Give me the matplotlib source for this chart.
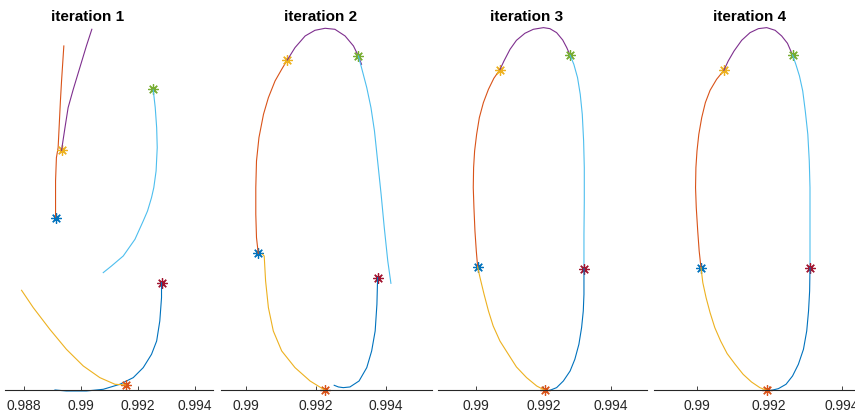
import matplotlib
matplotlib.use("Agg")
import matplotlib.pyplot as plt
from matplotlib.ticker import FuncFormatter
from cycler import cycler

# MATLAB default line colour order
matlab_colors = ["#0072BD", "#D95319", "#EDB120", "#7E2F8E",
                 "#77AC30", "#4DBEEE", "#A2142F"]

titles = ["iteration 1", "iteration 2", "iteration 3", "iteration 4"]
x_ticks = [[0.988, 0.990, 0.992, 0.994],
           [0.990, 0.992, 0.994],
           [0.990, 0.992, 0.994],
           [0.990, 0.992, 0.994]]
x_limits = [(0.98734, 0.99464), (0.989286, 0.995305),
            (0.988884, 0.995077), (0.988835, 0.994587)]

# ---- iteration 1 ----
it1_start_x = [0.98911, 0.98932, 0.99253, 0.99282, 0.99156]
it1_start_y = [0.4796, 0.6667, 0.8361, 0.2991, 0.0148]
it1_arcs = [
    ([0.98911, 0.98911, 0.98914, 0.98920, 0.98924, 0.98928, 0.98932, 0.98940],
     [0.4815, 0.5815, 0.6463, 0.6741, 0.7389, 0.8037, 0.8593, 0.9565]),
    ([0.98932, 0.98944, 0.98955, 0.98973, 0.98996, 0.99019, 0.99038],
     [0.6667, 0.7296, 0.7852, 0.8361, 0.8963, 0.9565, 1.0028]),
    ([0.99253, 0.99260, 0.99265, 0.99267, 0.99263, 0.99255, 0.99247, 0.99233,
      0.99218, 0.99189, 0.99148, 0.99107, 0.99078],
     [0.8343, 0.7852, 0.7296, 0.6741, 0.6093, 0.5630, 0.5352, 0.4981,
      0.4704, 0.4194, 0.3731, 0.3454, 0.3269]),
    ([0.99282, 0.99282, 0.99276, 0.99265, 0.99247, 0.99218, 0.99183, 0.99136,
      0.99078, 0.99019, 0.98949, 0.98909],
     [0.2991, 0.2574, 0.1926, 0.1370, 0.1000, 0.0630, 0.0352, 0.0167,
      0.0028, -0.0019, -0.0019, 0.0009]),
    ([0.99156, 0.99119, 0.99066, 0.99008, 0.98949, 0.98891, 0.98833, 0.98792],
     [0.0148, 0.0167, 0.0352, 0.0676, 0.1139, 0.1694, 0.2296, 0.2778]),
]

# ---- iteration 2 ----
it2_start_x = [0.99035, 0.99118, 0.99321, 0.99376, 0.99226]
it2_start_y = [0.3806, 0.9167, 0.9287, 0.3130, 0.0000]
it2_arcs = [
    ([0.99035, 0.99030, 0.99028, 0.99028, 0.99030, 0.99037, 0.99050, 0.99064,
      0.99083, 0.99102, 0.99118],
     [0.3806, 0.4241, 0.4889, 0.5630, 0.6370, 0.7019, 0.7667, 0.8130,
      0.8593, 0.8917, 0.9176]),
    ([0.99118, 0.99140, 0.99169, 0.99197, 0.99226, 0.99254, 0.99283, 0.99307,
      0.99321, 0.99330],
     [0.9176, 0.9519, 0.9843, 1.0000, 1.0056, 1.0028, 0.9843, 0.9565,
      0.9287, 0.9056]),
    ([0.99321, 0.99330, 0.99345, 0.99357, 0.99367, 0.99376, 0.99386, 0.99395,
      0.99405, 0.99414],
     [0.9287, 0.8963, 0.8407, 0.7852, 0.7204, 0.6370, 0.5444, 0.4519,
      0.3593, 0.2972]),
    ([0.99376, 0.99374, 0.99369, 0.99359, 0.99345, 0.99323, 0.99297, 0.99278,
      0.99264, 0.99252],
     [0.3130, 0.2389, 0.1648, 0.1093, 0.0630, 0.0259, 0.0093, 0.0074,
      0.0093, 0.0139]),
    ([0.99226, 0.99183, 0.99140, 0.99102, 0.99078, 0.99064, 0.99056, 0.99052,
      0.99047],
     [0.0000, 0.0259, 0.0630, 0.1093, 0.1648, 0.2296, 0.3037, 0.3731,
      0.3778]),
]

# ---- iteration 3 ----
it3_start_x = [0.99005, 0.99071, 0.99279, 0.99320, 0.99204]
it3_start_y = [0.3426, 0.8907, 0.9306, 0.3380, 0.0000]
it3_arcs = [
    ([0.99005, 0.99001, 0.98997, 0.98994, 0.98992, 0.98993, 0.98996, 0.99002,
      0.99010, 0.99022, 0.99037, 0.99053, 0.99071],
     [0.3426, 0.3870, 0.4426, 0.5074, 0.5630, 0.6185, 0.6648, 0.7111,
      0.7574, 0.7991, 0.8361, 0.8667, 0.8907]),
    ([0.99071, 0.99083, 0.99101, 0.99120, 0.99145, 0.99170, 0.99200, 0.99219,
      0.99239, 0.99257, 0.99269, 0.99279],
     [0.8907, 0.9148, 0.9472, 0.9722, 0.9917, 1.0028, 1.0074, 1.0046,
      0.9935, 0.9731, 0.9519, 0.9306]),
    ([0.99279, 0.99290, 0.99301, 0.99309, 0.99315, 0.99319, 0.99321, 0.99321,
      0.99320, 0.99320],
     [0.9306, 0.9056, 0.8685, 0.8222, 0.7667, 0.6926, 0.6185, 0.5259,
      0.4333, 0.3380]),
    ([0.99320, 0.99320, 0.99318, 0.99313, 0.99305, 0.99293, 0.99279, 0.99259,
      0.99239, 0.99219, 0.99204],
     [0.3380, 0.2667, 0.2204, 0.1741, 0.1278, 0.0861, 0.0537, 0.0259,
      0.0074, 0.0000, -0.0019]),
    ([0.99204, 0.99180, 0.99150, 0.99120, 0.99096, 0.99071, 0.99051, 0.99037,
      0.99024, 0.99012, 0.99005],
     [0.0000, 0.0120, 0.0352, 0.0648, 0.1000, 0.1370, 0.1787, 0.2204,
      0.2667, 0.3130, 0.3426]),
]

# ---- iteration 4 ----
it4_start_x = [0.99012, 0.99075, 0.99264, 0.99312, 0.99193]
it4_start_y = [0.3407, 0.8889, 0.9315, 0.3407, 0.0000]
it4_arcs = [
    ([0.99012, 0.99007, 0.99003, 0.98999, 0.98997, 0.98998, 0.99001, 0.99006,
      0.99014, 0.99024, 0.99037, 0.99055, 0.99075],
     [0.3407, 0.3870, 0.4426, 0.5074, 0.5630, 0.6185, 0.6648, 0.7111,
      0.7574, 0.7991, 0.8333, 0.8639, 0.8889]),
    ([0.99075, 0.99087, 0.99103, 0.99124, 0.99147, 0.99170, 0.99193, 0.99216,
      0.99234, 0.99250, 0.99264],
     [0.8889, 0.9148, 0.9426, 0.9722, 0.9935, 1.0046, 1.0074, 1.0000,
      0.9843, 0.9639, 0.9315]),
    ([0.99264, 0.99273, 0.99283, 0.99292, 0.99299, 0.99306, 0.99310, 0.99312,
      0.99312, 0.99312, 0.99312],
     [0.9315, 0.9056, 0.8731, 0.8315, 0.7759, 0.7111, 0.6370, 0.5630,
      0.4796, 0.4093, 0.3407]),
    ([0.99312, 0.99311, 0.99308, 0.99303, 0.99294, 0.99280, 0.99264, 0.99246,
      0.99225, 0.99206, 0.99197],
     [0.3407, 0.2759, 0.2204, 0.1648, 0.1139, 0.0722, 0.0398, 0.0167,
      0.0046, 0.0000, 0.0000]),
    ([0.99193, 0.99174, 0.99151, 0.99128, 0.99106, 0.99084, 0.99066, 0.99050,
      0.99037, 0.99026, 0.99017, 0.99012],
     [0.0000, 0.0074, 0.0231, 0.0444, 0.0722, 0.1019, 0.1370, 0.1741,
      0.2157, 0.2574, 0.2991, 0.3407]),
]

iterations = [
    (it1_start_x, it1_start_y, it1_arcs),
    (it2_start_x, it2_start_y, it2_arcs),
    (it3_start_x, it3_start_y, it3_arcs),
    (it4_start_x, it4_start_y, it4_arcs),
]

plt.rcParams["font.family"] = ["Liberation Sans", "DejaVu Sans"]
plt.rcParams["axes.prop_cycle"] = cycler(color=matlab_colors)

W, H = 855, 415
fig = plt.figure(figsize=(W / 100, H / 100), dpi=100)

# axes placement in pixels: (left, right), common bottom/top
ax_px = [(5.0, 213.5), (221.0, 431.7), (438.3, 647.3), (654.3, 863.3)]
bottom_px, top_px = 390.3, 30.3
title_cx = [88, 321, 527, 750]
axis_gray = "#262626"

asterisk = (8, 2, 0)
fmt = FuncFormatter(lambda v, p: f"{v:.3f}".rstrip("0"))

for i, (sx, sy, arcs) in enumerate(iterations):
    l, r = ax_px[i]
    ax = fig.add_axes([l / W, (H - bottom_px) / H, (r - l) / W,
                       (bottom_px - top_px) / H])
    for k in range(len(sx)):
        ax.plot([sx[k]], [sy[k]], linestyle="none", marker=asterisk,
                markersize=7.5, markeredgewidth=0.9, clip_on=False)
        ax.plot(arcs[k][0], arcs[k][1], linewidth=0.8, clip_on=False)
    ax.set_xlim(*x_limits[i])
    ax.set_ylim(0, 1)
    for s in ("left", "right", "top"):
        ax.spines[s].set_visible(False)
    ax.spines["bottom"].set_color(axis_gray)
    ax.spines["bottom"].set_linewidth(0.8)
    ax.set_yticks([])
    ax.set_xticks(x_ticks[i])
    ax.xaxis.set_major_formatter(fmt)
    ax.tick_params(axis="x", direction="in", length=3, width=0.6,
                   colors=axis_gray, labelsize=10, pad=6)
    ax.patch.set_alpha(0)
    fig.text(title_cx[i] / W, 1 - 20.7 / H, titles[i], ha="center",
             va="baseline", fontsize=11, fontweight="bold", color="black")

fig.savefig("out.png", dpi=100)
